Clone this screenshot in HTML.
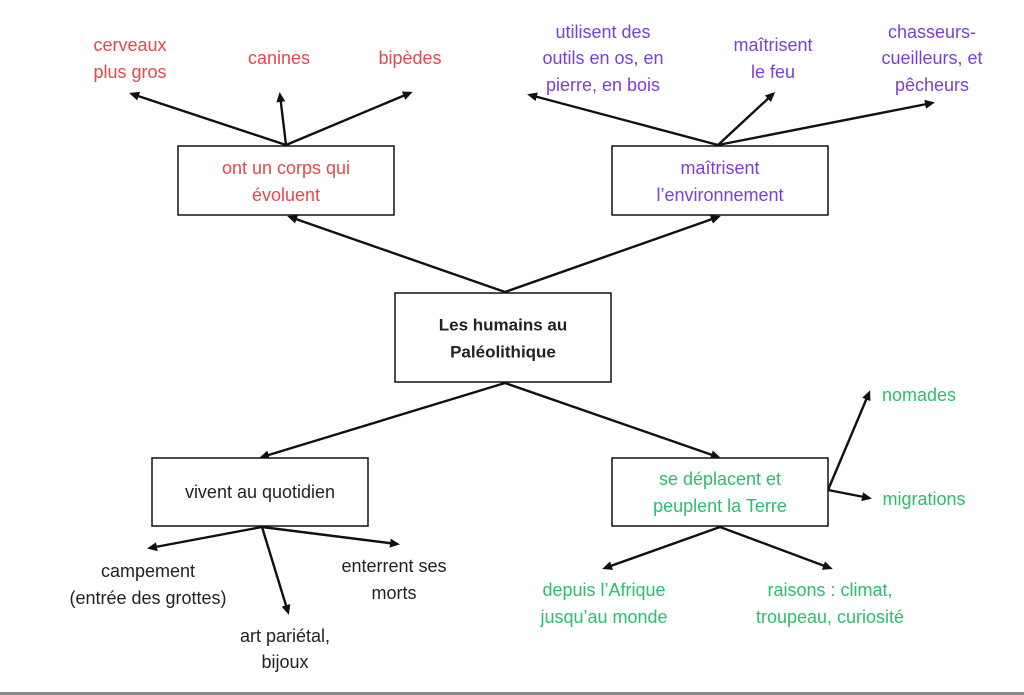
<!DOCTYPE html>
<html><head><meta charset="utf-8"><style>
html,body{margin:0;padding:0;background:#fff}
svg{display:block}
text{font-family:"Liberation Sans",sans-serif;font-size:18px;text-anchor:middle;dominant-baseline:central}
.r{fill:#e5484d}.p{fill:#7b3fd6}.g{fill:#2dbd6e}.k{fill:#222}
rect{fill:#fff;stroke:#111;stroke-width:1.5}
line{stroke:#111;stroke-width:2.4;marker-end:url(#a)}
</style></head><body>
<svg width="1024" height="695" viewBox="0 0 1024 695">
<defs><marker id="a" markerWidth="10" markerHeight="10" refX="7" refY="5" orient="auto" markerUnits="userSpaceOnUse"><path d="M0,0.5 L10,5 L0,9.5 z" fill="#111"/></marker></defs>
<line x1="286" y1="145" x2="132" y2="94"/>
<line x1="286" y1="145" x2="280" y2="95"/>
<line x1="286" y1="145" x2="410" y2="93"/>
<line x1="718" y1="145" x2="530" y2="95"/>
<line x1="718" y1="145" x2="773" y2="94"/>
<line x1="718" y1="145" x2="932" y2="103"/>
<line x1="505" y1="292" x2="290" y2="217"/>
<line x1="505" y1="292" x2="718" y2="217"/>
<line x1="505" y1="383" x2="262" y2="457"/>
<line x1="505" y1="383" x2="718" y2="457"/>
<line x1="262" y1="527" x2="150" y2="548"/>
<line x1="262" y1="527" x2="288" y2="612"/>
<line x1="262" y1="527" x2="397" y2="544"/>
<line x1="720" y1="527" x2="605" y2="568"/>
<line x1="720" y1="527" x2="830" y2="568"/>
<line x1="828" y1="490" x2="869" y2="393"/>
<line x1="828" y1="490" x2="869" y2="498"/>
<rect x="178" y="146" width="216" height="69"/>
<rect x="612" y="146" width="216" height="69"/>
<rect x="395" y="293" width="216" height="89"/>
<rect x="152" y="458" width="216" height="68"/>
<rect x="612" y="458" width="216" height="68"/>
<text class="r" x="130" y="45">cerveaux</text><text class="r" x="130" y="72">plus gros</text>
<text class="r" x="279" y="58">canines</text>
<text class="r" x="410" y="58">bipèdes</text>
<text class="p" x="603" y="32">utilisent des</text><text class="p" x="603" y="58">outils en os, en</text><text class="p" x="603" y="85">pierre, en bois</text>
<text class="p" x="773" y="45">maîtrisent</text><text class="p" x="773" y="72">le feu</text>
<text class="p" x="932" y="32">chasseurs-</text><text class="p" x="932" y="58">cueilleurs, et</text><text class="p" x="932" y="85">pêcheurs</text>
<text class="r" x="286" y="168">ont un corps qui</text><text class="r" x="286" y="195">évoluent</text>
<text class="p" x="720" y="168">maîtrisent</text><text class="p" x="720" y="195">l’environnement</text>
<text class="k" x="503" y="325" font-weight="bold" style="font-size:17px">Les humains au</text><text class="k" x="503" y="352" font-weight="bold" style="font-size:17px">Paléolithique</text>
<text class="k" x="260" y="492">vivent au quotidien</text>
<text class="g" x="720" y="479">se déplacent et</text><text class="g" x="720" y="506">peuplent la Terre</text>
<text class="g" x="919" y="395">nomades</text>
<text class="g" x="924" y="499">migrations</text>
<text class="k" x="148" y="571">campement</text><text class="k" x="148" y="598">(entrée des grottes)</text>
<text class="k" x="285" y="636">art pariétal,</text><text class="k" x="285" y="662">bijoux</text>
<text class="k" x="394" y="566">enterrent ses</text><text class="k" x="394" y="593">morts</text>
<text class="g" x="604" y="590">depuis l’Afrique</text><text class="g" x="604" y="617">jusqu’au monde</text>
<text class="g" x="830" y="590">raisons : climat,</text><text class="g" x="830" y="617">troupeau, curiosité</text>
<rect x="0" y="692" width="1024" height="3" style="fill:#888;stroke:none"/>
</svg>
</body></html>
